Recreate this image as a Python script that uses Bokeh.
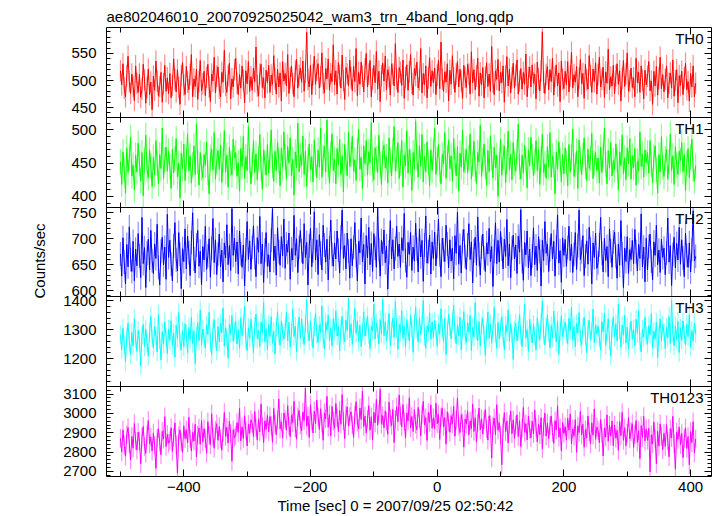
import math
import numpy as np
from bokeh.plotting import figure
from bokeh.models import (LinearAxis, SingleIntervalTicker, FixedTicker, Label, Range1d,
                          ColumnDataSource, CustomJSTickFormatter, Title)
from bokeh.embed import file_html
from bokeh.resources import INLINE

TITLE = "ae802046010_20070925025042_wam3_trn_4band_long.qdp"
X_LABEL = "Time [sec] 0 = 2007/09/25 02:50:42"
Y_LABEL = "Counts/sec"

T_START = -500   # time of first bin [sec]
BIN = 2          # bin width [sec]

X_TICKS = [-400, -200, 0, 200, 400]
X_TICK_LABELS = ["\u2212400", "\u2212200", "0", "200", "400"]

BANDS = ["TH0", "TH1", "TH2", "TH3", "TH0123"]
ERRS = [20, 19, 23, 32, 48]   # typical 1-sigma error per band [counts/sec]

th0 = [
    518, 492, 531, 486, 470, 509, 545, 498, 476, 512, 489, 463, 527,
    495, 478, 512, 469, 484, 530, 501, 458, 487, 521, 474, 497, 446,
    508, 482, 536, 499, 471, 489, 515, 460, 494, 528, 480, 505, 476,
    513, 468, 491, 540, 502, 479, 520, 487, 456, 509, 533, 492, 474,
    526, 497, 483, 511, 548, 470, 503, 489, 521, 465, 498, 537, 481,
    494, 517, 472, 506, 530, 488, 461, 512, 499, 543, 477, 508, 525,
    486, 470, 515, 497, 556, 491, 478, 509, 532, 466, 503, 488, 520,
    541, 495, 474, 511, 486, 527, 500, 459, 518, 494, 535, 480, 507,
    482, 523, 498, 562, 490, 471, 512, 530, 487, 505, 468, 519, 496,
    528, 478, 510, 493, 546, 503, 475, 521, 488, 514, 462, 535, 499,
    513, 490, 548, 476, 505, 527, 494, 470, 518, 539, 486, 509, 523,
    497, 536, 480, 515, 589, 502, 488, 528, 474, 511, 545, 493, 519,
    531, 486, 507, 551, 494, 477, 522, 503, 540, 482, 513, 498, 566,
    492, 518, 475, 533, 509, 486, 547, 500, 465, 524, 512, 490, 538,
    505, 481, 526, 498, 559, 472, 515, 493, 534, 508, 479, 521, 550,
    488, 512, 537, 470, 503, 528, 496, 554, 484, 517, 461, 509, 532,
    499, 545, 483, 520, 507, 473, 531, 512, 490, 568, 502, 478, 524,
    515, 491, 538, 467, 506, 529, 482, 516, 548, 495, 473, 522, 509,
    534, 486, 501, 559, 477, 513, 492, 527, 468, 505, 542, 489, 518,
    496, 523, 474, 510, 537, 485, 571, 503, 480, 516, 497, 531, 462,
    519, 493, 546, 505, 478, 512, 535, 488, 521, 499, 467, 528, 506,
    487, 530, 512, 475, 553, 496, 520, 483, 508, 541, 471, 514, 492,
    524, 468, 506, 533, 489, 512, 480, 563, 497, 474, 518, 502, 539,
    481, 515, 496, 527, 460, 508, 544, 490, 521, 477, 505, 532, 486,
    510, 538, 475, 499, 522, 484, 515, 493, 549, 470, 506, 525, 488,
    529, 495, 512, 466, 534, 503, 481, 518, 590, 497, 476, 511, 526,
    483, 520, 498, 541, 473, 507, 529, 490, 514, 461, 536, 502, 485,
    517, 492, 535, 479, 508, 552, 486, 511, 497, 526, 470, 504, 539,
    494, 513, 467, 530, 501, 484, 546, 509, 478, 521, 498, 533, 475,
    511, 543, 488, 502, 525, 469, 516, 495, 558, 483, 507, 490, 528,
    476, 509, 531, 493, 518, 462, 504, 537, 489, 512, 551, 480, 499,
    523, 487, 505, 470, 541, 496, 515, 478, 527, 501, 466, 519, 492,
    508, 535, 481, 499, 456, 517, 490, 526, 473, 504, 543, 485, 511,
    479, 502, 527, 468, 495, 514, 486, 538, 471, 500, 520, 459, 509,
    491, 517, 474, 505, 532, 483, 498, 462, 513, 488, 527, 470, 495,
]

th1 = [
    452, 418, 467, 440, 405, 473, 436, 458, 489, 431, 447, 410, 462,
    437, 480, 449, 423, 466, 401, 454, 492, 441, 428, 470, 446, 415,
    459, 433, 484, 450, 419, 463, 442, 503, 427, 455, 474, 438, 468,
    445, 412, 471, 436, 457, 487, 429, 450, 398, 465, 441, 479, 424,
    456, 494, 438, 461, 420, 448, 476, 433, 509, 452, 417, 466, 443,
    428, 463, 447, 482, 435, 404, 458, 471, 440, 496, 426, 453, 469,
    441, 477, 421, 455, 499, 437, 462, 414, 474, 449, 432, 486, 458,
    466, 430, 451, 408, 472, 445, 490, 427, 460, 439, 505, 453, 419,
    448, 484, 436, 464, 425, 457, 493, 442, 411, 470, 451, 432, 478,
    435, 461, 500, 446, 423, 468, 439, 482, 453, 416, 473, 444, 497,
    459, 426, 475, 450, 488, 431, 456, 402, 467, 443, 510, 437, 462,
    447, 491, 433, 468, 415, 455, 479, 440, 460, 422, 485, 451, 428,
    470, 444, 503, 429, 458, 476, 437, 515, 448, 420, 464, 494, 439,
    456, 419, 472, 447, 486, 433, 461, 407, 478, 452, 431, 497, 445,
    463, 490, 438, 455, 424, 469, 501, 441, 459, 412, 476, 449, 484,
    432, 467, 451, 511, 440, 425, 473, 457, 436, 492, 448, 418, 465,
    477, 443, 460, 420, 488, 454, 431, 469, 505, 438, 457, 481, 427,
    450, 484, 414, 462, 446, 499, 435, 471, 452, 409, 466, 441, 513,
    458, 429, 476, 445, 493, 422, 460, 437, 482, 451, 416, 470, 439,
    467, 502, 433, 456, 478, 440, 419, 463, 449, 496, 427, 458, 485,
    442, 461, 423, 487, 454, 431, 475, 408, 465, 444, 500, 437, 453,
    471, 436, 458, 494, 426, 449, 483, 441, 419, 466, 452, 507, 430,
    455, 479, 445, 417, 469, 437, 491, 457, 428, 474, 443, 462, 400,
    448, 486, 432, 459, 476, 421, 453, 498, 440, 464, 425, 481, 450,
    438, 467, 509, 444, 426, 462, 435, 477, 455, 413, 470, 446, 489,
    460, 431, 452, 484, 439, 471, 418, 457, 493, 436, 449, 427, 475,
    444, 496, 429, 461, 448, 404, 467, 441, 482, 455, 422, 463, 434,
    473, 451, 416, 478, 437, 459, 501, 430, 447, 468, 412, 485, 456,
    433, 462, 488, 445, 424, 471, 442, 457, 495, 427, 450, 466, 439,
    458, 420, 474, 436, 463, 503, 448, 419, 469, 443, 481, 431, 454,
    440, 479, 455, 410, 467, 446, 492, 434, 458, 425, 473, 449, 487,
    426, 461, 443, 472, 417, 453, 438, 497, 445, 464, 429, 470, 451,
    466, 435, 484, 448, 421, 459, 476, 440, 405, 463, 437, 490, 444,
    430, 457, 471, 426, 452, 494, 439, 461, 418, 475, 447, 433, 468,
    454, 481, 437, 463, 409, 450, 472, 428, 459, 486, 441, 423, 446,
]

th2 = [
    671, 628, 702, 655, 613, 689, 646, 723, 660, 637, 695, 619, 680,
    648, 710, 667, 625, 741, 652, 683, 606, 672, 699, 640, 716, 658,
    633, 690, 662, 728, 645, 611, 676, 703, 650, 684, 622, 747, 664,
    697, 651, 619, 686, 731, 659, 638, 712, 670, 604, 681, 656, 719,
    642, 705, 673, 629, 693, 750, 661, 634, 688, 716, 647, 676, 612,
    685, 659, 724, 641, 667, 700, 626, 682, 739, 654, 698, 631, 670,
    709, 646, 678, 617, 692, 663, 727, 650, 687, 639, 758, 668, 701,
    656, 694, 632, 715, 671, 645, 688, 609, 679, 733, 660, 696, 641,
    683, 725, 664, 627, 702, 674, 743, 652, 690, 616, 678, 712, 647,
    669, 636, 697, 758, 658, 686, 630, 721, 675, 649, 704, 667, 738,
    643, 690, 674, 711, 622, 681, 659, 745, 668, 700, 635, 684, 716,
    677, 652, 729, 664, 693, 611, 686, 720, 646, 677, 752, 659, 698,
    631, 708, 672, 640, 726, 688, 655, 699, 621, 683, 736, 670, 647,
    692, 661, 715, 678, 634, 703, 755, 662, 687, 642, 711, 676, 624,
    700, 648, 684, 731, 667, 619, 695, 673, 740, 656, 689, 613, 706,
    663, 722, 650, 691, 637, 710, 682, 645, 760, 679, 628, 697, 671,
    717, 654, 686, 603, 674, 735, 661, 698, 642, 681, 724, 666, 690,
    645, 702, 677, 749, 658, 626, 693, 670, 712, 639, 684, 657, 730,
    680, 636, 719, 665, 697, 618, 688, 744, 653, 675, 707, 632, 694,
    662, 713, 648, 685, 738, 669, 627, 701, 679, 656, 726, 690, 644,
    698, 657, 682, 623, 706, 672, 751, 651, 687, 634, 695, 718, 666,
    641, 688, 729, 660, 694, 615, 677, 703, 649, 742, 670, 630, 684,
    709, 663, 637, 692, 671, 720, 656, 685, 608, 676, 731, 652, 697,
    655, 714, 680, 642, 699, 666, 737, 648, 690, 625, 682, 707, 661,
    688, 633, 705, 674, 756, 657, 620, 693, 669, 715, 644, 680, 629,
    667, 721, 650, 686, 639, 704, 676, 609, 697, 658, 733, 672, 690,
    637, 679, 710, 661, 695, 628, 684, 746, 653, 677, 616, 702, 668,
    699, 647, 683, 724, 658, 690, 635, 670, 712, 641, 687, 755, 660,
    675, 706, 629, 667, 696, 651, 722, 680, 613, 692, 664, 711, 643,
    654, 688, 741, 672, 636, 701, 658, 685, 627, 719, 677, 645, 694,
    713, 666, 624, 690, 649, 735, 671, 606, 682, 656, 704, 633, 679,
    660, 697, 652, 718, 675, 638, 689, 662, 748, 646, 684, 617, 701,
    640, 685, 709, 657, 621, 694, 668, 726, 650, 678, 635, 699, 664,
    682, 631, 673, 740, 655, 687, 610, 670, 703, 644, 691, 659, 722,
    651, 698, 663, 627, 711, 668, 645, 692, 636, 679, 754, 657, 666,
]

th3 = [
    1282, 1231, 1305, 1248, 1190, 1276, 1322, 1259, 1214, 1290, 1243, 1337, 1268,
    1225, 1297, 1262, 1176, 1281, 1318, 1240, 1302, 1255, 1208, 1289, 1346, 1271,
    1238, 1310, 1279, 1223, 1352, 1265, 1196, 1293, 1250, 1327, 1274, 1217, 1301,
    1263, 1331, 1246, 1288, 1205, 1315, 1270, 1359, 1258, 1230, 1296, 1241, 1320,
    1285, 1219, 1307, 1266, 1343, 1252, 1296, 1183, 1278, 1324, 1261, 1368, 1247,
    1302, 1270, 1236, 1317, 1284, 1360, 1255, 1213, 1299, 1335, 1268, 1227, 1311,
    1257, 1323, 1289, 1374, 1244, 1306, 1272, 1201, 1318, 1286, 1349, 1260, 1295,
    1328, 1251, 1300, 1235, 1341, 1279, 1315, 1380, 1262, 1228, 1307, 1270, 1336,
    1283, 1220, 1312, 1354, 1269, 1297, 1242, 1326, 1288, 1395, 1258, 1303, 1231,
    1319, 1277, 1345, 1253, 1294, 1216, 1308, 1362, 1281, 1246, 1330, 1290, 1267,
    1301, 1359, 1262, 1325, 1239, 1288, 1371, 1276, 1312, 1224, 1297, 1343, 1270,
    1337, 1283, 1248, 1318, 1402, 1292, 1261, 1329, 1274, 1236, 1310, 1356, 1285,
    1255, 1316, 1290, 1382, 1269, 1233, 1324, 1298, 1350, 1262, 1305, 1243, 1339,
    1294, 1365, 1278, 1310, 1226, 1302, 1347, 1281, 1258, 1333, 1296, 1409, 1272,
    1320, 1249, 1304, 1374, 1287, 1330, 1259, 1315, 1241, 1293, 1361, 1278, 1308,
    1346, 1282, 1234, 1311, 1295, 1388, 1268, 1322, 1300, 1251, 1335, 1285, 1404,
    1279, 1327, 1263, 1301, 1356, 1245, 1298, 1340, 1274, 1397, 1307, 1232, 1318,
    1290, 1366, 1270, 1313, 1239, 1335, 1296, 1261, 1349, 1305, 1222, 1321, 1378,
    1302, 1257, 1342, 1284, 1318, 1401, 1276, 1236, 1313, 1291, 1358, 1266, 1326,
    1273, 1331, 1298, 1243, 1320, 1284, 1372, 1305, 1259, 1339, 1214, 1296, 1352,
    1310, 1268, 1327, 1385, 1289, 1250, 1316, 1278, 1343, 1230, 1301, 1362, 1281,
    1256, 1322, 1291, 1349, 1227, 1308, 1275, 1393, 1295, 1262, 1328, 1244, 1314,
    1339, 1282, 1211, 1297, 1360, 1270, 1319, 1253, 1304, 1377, 1288, 1236, 1325,
    1268, 1306, 1345, 1277, 1231, 1315, 1292, 1368, 1259, 1320, 1284, 1197, 1299,
    1323, 1261, 1296, 1352, 1280, 1241, 1310, 1387, 1272, 1300, 1225, 1336, 1289,
    1254, 1318, 1277, 1229, 1341, 1293, 1266, 1324, 1398, 1283, 1247, 1307, 1351,
    1290, 1237, 1314, 1272, 1364, 1301, 1258, 1330, 1215, 1295, 1348, 1276, 1305,
    1326, 1285, 1252, 1339, 1297, 1378, 1263, 1311, 1240, 1321, 1288, 1359, 1271,
    1248, 1307, 1343, 1279, 1220, 1302, 1332, 1264, 1296, 1371, 1255, 1315, 1286,
    1311, 1270, 1229, 1327, 1293, 1356, 1246, 1289, 1338, 1262, 1209, 1304, 1344,
    1275, 1320, 1261, 1388, 1298, 1239, 1316, 1281, 1350, 1254, 1309, 1234, 1292,
    1328, 1266, 1302, 1245, 1336, 1287, 1365, 1259, 1223, 1301, 1275, 1342, 1279,
    1250, 1313, 1284, 1355, 1236, 1294, 1268, 1326, 1203, 1283, 1337, 1262, 1318,
    1290, 1234, 1308, 1271, 1345, 1252, 1401, 1288, 1244, 1312, 1266, 1329, 1221,
    1305, 1263, 1330, 1282, 1248, 1318, 1276, 1352, 1239, 1297, 1260, 1323, 1285,
]

th0123 = [
    2872, 2801, 2915, 2836, 2779, 2890, 2927, 2845, 2760, 2881, 2820, 2948, 2857,
    2811, 2903, 2857, 2740, 2876, 2932, 2829, 2794, 2889, 2963, 2842, 2878, 2805,
    2898, 2834, 2716, 2872, 2921, 2850, 2786, 2907, 2868, 2983, 2829, 2891, 2846,
    2859, 2926, 2803, 2877, 2951, 2838, 2693, 2884, 2915, 2852, 2799, 2936, 2870,
    2914, 2847, 2980, 2869, 2806, 2901, 2857, 2944, 2776, 2888, 2925, 2840, 2963,
    2852, 2921, 2870, 2794, 2957, 2886, 2838, 2998, 2879, 2820, 2912, 2947, 2861,
    2932, 2869, 2810, 2903, 3005, 2881, 2928, 2847, 2960, 2896, 2753, 2915, 2874,
    2886, 2953, 2902, 3026, 2858, 2931, 2870, 2988, 2912, 2832, 2944, 2897, 2967,
    2949, 2881, 3010, 2926, 2862, 2972, 2905, 3049, 2933, 2850, 2961, 2918, 2990,
    2905, 2984, 2938, 2851, 3026, 2947, 2889, 2966, 3074, 2920, 2956, 2873, 3002,
    2968, 2913, 3040, 2936, 2880, 2991, 2952, 3062, 2925, 2867, 2981, 3015, 2940,
    2910, 3007, 2963, 3131, 2934, 2986, 2876, 3045, 2958, 2899, 3012, 2947, 3069,
    2981, 2917, 3024, 2950, 2861, 3003, 2972, 3088, 2929, 2994, 2885, 3036, 2960,
    2923, 3052, 2978, 2906, 3015, 2944, 3097, 2962, 2870, 2991, 3033, 2935, 2984,
    3008, 2941, 2876, 2992, 3061, 2955, 2920, 3028, 2968, 3115, 2932, 2986, 2898,
    2970, 3040, 2913, 2983, 2862, 3006, 2951, 3072, 2939, 2997, 3125, 2944, 2988,
    2926, 3013, 2960, 2892, 3058, 2975, 2938, 3021, 2849, 2969, 3034, 2957, 3095,
    2987, 2930, 3046, 2958, 2873, 3002, 2961, 3081, 2925, 2984, 2906, 3019, 2944,
    2915, 3031, 2972, 2884, 2996, 3062, 2941, 2978, 2860, 3005, 2953, 3044, 2923,
    2978, 2921, 3053, 2947, 2996, 2865, 2983, 3027, 2932, 2978, 2841, 3008, 2955,
    2903, 2988, 2947, 3036, 2882, 2966, 3079, 2935, 2901, 2993, 2952, 2826, 2971,
    2946, 3013, 2889, 2961, 2922, 3048, 2907, 2978, 2851, 2950, 3027, 2915, 2972,
    2894, 2967, 3020, 2921, 2862, 2988, 2942, 2770, 2935, 2976, 2890, 3045, 2913,
    2952, 2887, 2735, 2930, 3004, 2906, 2961, 2848, 2943, 3012, 2895, 2967, 2871,
    2938, 2993, 2880, 2962, 2829, 2925, 3031, 2903, 2947, 2863, 2986, 2918, 2874,
    2960, 2895, 3017, 2926, 2852, 2944, 2890, 2978, 2817, 2931, 3002, 2883, 2949,
    2870, 2936, 2987, 2901, 2845, 2962, 2915, 3039, 2878, 2924, 2807, 2953, 2896,
    2931, 2862, 2975, 2913, 2996, 2843, 2920, 2882, 2968, 2799, 2935, 2901, 3010,
    2889, 2944, 2825, 2916, 2873, 2987, 2904, 2842, 2951, 2887, 3023, 2866, 2930,
    2911, 2849, 2968, 2897, 2780, 2925, 2878, 2992, 2856, 2938, 2882, 2961, 2833,
    2940, 2872, 2912, 2809, 2958, 2885, 3005, 2861, 2926, 2833, 2897, 2979, 2868,
    2905, 2947, 2824, 2893, 2963, 2850, 2911, 2766, 2937, 2876, 2984, 2858, 2920,
    2861, 2923, 2698, 2889, 2842, 2955, 2869, 2740, 2907, 2831, 2946, 2882, 2813,
    2897, 2829, 2942, 2858, 2776, 2921, 2874, 2985, 2843, 2713, 2902, 2866, 2930,
    2838, 2896, 2772, 2871, 2925, 2819, 2880, 2735, 2906, 2849, 2957, 2795, 2868,
]

SERIES = [th0, th1, th2, th3, th0123]

# ---- styling / layout (not data) ----
COLORS = ["#ff0000", "#00ff00", "#0000ff", "#00ffff", "#ff00ff"]
Y_RANGES = [(432, 598), (384, 519), (588, 761), (1103, 1413), (2674, 3138)]
Y_INTERVALS = [50, 50, 50, 100, 100]
X_RANGE = (-522, 433)
FONT = "Liberation Sans"
FS = "15px"
NP = len(SERIES)

p = figure(width=717, height=516,
           x_range=Range1d(*X_RANGE), y_range=Range1d(0, NP),
           output_backend="svg", toolbar_location=None,
           x_axis_location=None, y_axis_location=None,
           min_border_left=106, min_border_right=6,
           min_border_top=27, min_border_bottom=40)
p.xgrid.visible = False
p.ygrid.visible = False
p.outline_line_color = "black"
p.outline_line_width = 1
p.background_fill_color = "white"
p.border_fill_color = "white"

p.title.text = TITLE
p.title.align = "left"
p.title.text_font = FONT
p.title.text_font_size = FS
p.title.text_font_style = "normal"
p.title.text_color = "black"
p.title.standoff = 6

# each band gets its own y range, stacked so that band i fills panel i
major_pos, minor_pos = [], []
starts, spans = [], []
for i, (s, e) in enumerate(Y_RANGES):
    d = e - s
    base = NP - 1 - i
    starts.append(s)
    spans.append(d)
    p.extra_y_ranges[f"b{i}"] = Range1d(s - base * d, e + i * d)
    step = Y_INTERVALS[i]
    m = math.ceil(s / step) * step
    while m <= e:
        major_pos.append(base + (m - s) / d)
        m += step
    ms = step / 5
    m = math.ceil(s / ms) * ms
    while m <= e:
        minor_pos.append(base + (m - s) / d)
        m += ms

for i, vals in enumerate(SERIES):
    t = [T_START + BIN * k for k in range(len(vals))]
    v = np.array(vals, dtype=float)
    s, e = Y_RANGES[i]
    src = ColumnDataSource(dict(t=t, v=v,
                                lo=np.clip(v - ERRS[i], s, e),
                                hi=np.clip(v + ERRS[i], s, e)))
    p.segment(x0="t", y0="lo", x1="t", y1="hi", source=src, y_range_name=f"b{i}",
              line_color=COLORS[i], line_alpha=0.45, line_width=1.2)
    p.line(x="t", y="v", source=src, y_range_name=f"b{i}",
           line_color=COLORS[i], line_width=1)
    p.add_layout(Label(x=X_RANGE[1], y=NP - i, x_offset=-8, y_offset=-11,
                       text=BANDS[i], text_align="right", text_baseline="middle",
                       text_font=FONT, text_font_size=FS, text_color="black"))


def quiet(ax):
    ax.major_tick_out = 0
    ax.minor_tick_out = 0
    ax.major_label_text_font_size = "0px"
    ax.major_label_text_color = None
    ax.major_label_standoff = 0
    ax.major_tick_line_color = "black"
    ax.minor_tick_line_color = "black"


xt = SingleIntervalTicker(interval=200, num_minor_ticks=2)
yt = FixedTicker(ticks=major_pos, minor_ticks=minor_pos)
yfmt = CustomJSTickFormatter(args=dict(starts=starts, spans=spans, n=NP), code="""
    const j = Math.min(n - 1, Math.max(0, Math.floor(tick + 1e-9)));
    const i = n - 1 - j;
    const v = starts[i] + (tick - j) * spans[i];
    return Math.round(v).toString();
""")

# bottom axis with labels
xb = LinearAxis(ticker=xt)
xb.axis_line_color = None
xb.major_tick_out = 0
xb.minor_tick_out = 0
xb.major_tick_in = 7
xb.minor_tick_in = 5
xb.major_label_overrides = {tk: lb for tk, lb in zip(X_TICKS, X_TICK_LABELS)}
xb.major_label_text_font = FONT
xb.major_label_text_font_size = FS
xb.major_label_text_color = "black"
xb.major_label_standoff = 5
p.add_layout(xb, "below")

# top axis, ticks only
xa = LinearAxis(ticker=xt)
quiet(xa)
xa.axis_line_color = None
xa.major_tick_in = 7
xa.minor_tick_in = 5
p.add_layout(xa, "above")

# panel separators with ticks on both sides
for k in range(1, NP):
    for loc in ("below", "above"):
        ax = LinearAxis(ticker=xt, fixed_location=k)
        quiet(ax)
        ax.axis_line_color = "black"
        ax.axis_line_width = 1
        ax.major_tick_in = 7
        ax.minor_tick_in = 5
        p.add_layout(ax, loc)

# left axis with labels
yl = LinearAxis(ticker=yt, formatter=yfmt)
yl.axis_line_color = None
yl.major_tick_out = 0
yl.minor_tick_out = 0
yl.major_tick_in = 7
yl.minor_tick_in = 4
yl.major_label_text_font = FONT
yl.major_label_text_font_size = FS
yl.major_label_text_color = "black"
yl.major_label_standoff = 10
p.add_layout(yl, "left")

# right axis, ticks only
yr = LinearAxis(ticker=yt)
quiet(yr)
yr.axis_line_color = None
yr.major_tick_in = 7
yr.minor_tick_in = 4
p.add_layout(yr, "right")

# axis titles
p.add_layout(Title(text=Y_LABEL, align="left", offset=178, standoff=26,
                   text_font=FONT, text_font_size=FS, text_font_style="normal",
                   text_color="black"), "left")
p.add_layout(Title(text=X_LABEL, align="left", offset=171, standoff=1,
                   text_font=FONT, text_font_size=FS, text_font_style="normal",
                   text_color="black"), "below")

with open("out.html", "w") as f:
    f.write(file_html(p, INLINE))
